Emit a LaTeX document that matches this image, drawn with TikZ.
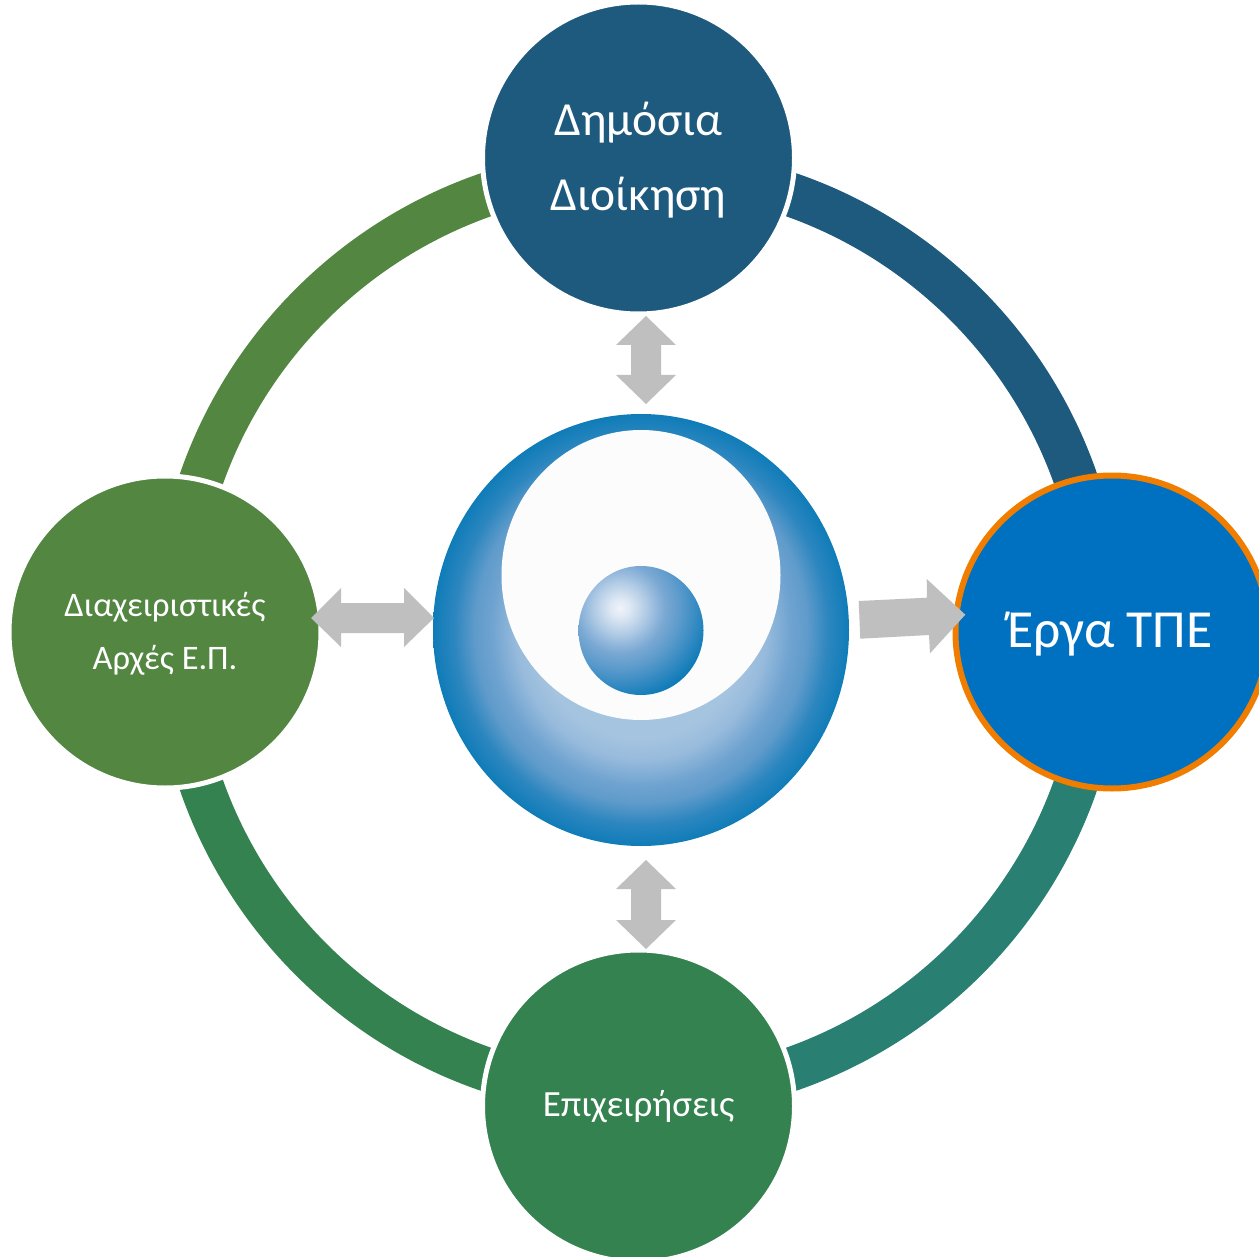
\documentclass[tikz,border=0pt]{standalone}
\usepackage{fontspec}
\setmainfont{Carlito}
\definecolor{cpub}{HTML}{1E5A7E}
\definecolor{cteal}{HTML}{287F72}
\definecolor{cbiz}{HTML}{348250}
\definecolor{cman}{HTML}{528641}
\definecolor{cict}{HTML}{0070C0}
\definecolor{corange}{HTML}{F07D00}
\definecolor{cgrey}{HTML}{BFBFBF}
\definecolor{mbb}{HTML}{A5C4E0}
\definecolor{mbg}{HTML}{98BBDC}
\definecolor{mbc}{HTML}{6FA3D0}
\definecolor{mbh}{HTML}{5F9BCB}
\definecolor{mbd}{HTML}{2C86BF}
\definecolor{mbf}{HTML}{0F7CB8}
\definecolor{sba}{HTML}{F0F4FA}
\definecolor{sbb}{HTML}{DDE7F3}
\definecolor{sbc}{HTML}{B4CDE6}
\definecolor{sbg}{HTML}{93B8DC}
\definecolor{sbd}{HTML}{7AA8D3}
\definecolor{sbh}{HTML}{5C9BCC}
\definecolor{sbe}{HTML}{2D87C0}
\pgfdeclareradialshading{mainball}{\pgfpoint{0bp}{0bp}}{
  color(0bp)=(mbb);
  color(12.5bp)=(mbb);
  color(15bp)=(mbg);
  color(18bp)=(mbc);
  color(20bp)=(mbh);
  color(22.5bp)=(mbd);
  color(25bp)=(mbf);
  color(50bp)=(mbf)}
\pgfdeclareradialshading{smallball}{\pgfpoint{0bp}{0bp}}{
  color(0bp)=(sba);
  color(2.5bp)=(sbb);
  color(6.25bp)=(sbc);
  color(9bp)=(sbg);
  color(11.25bp)=(sbd);
  color(15bp)=(sbh);
  color(20bp)=(sbe);
  color(23bp)=(mbf);
  color(50bp)=(mbf)}
\tikzset{
  ringarc/.style={line width=44pt,line cap=butt},
  hub/.style={circle,minimum size=312pt,inner sep=0pt,draw=white,line width=5pt},
  hubtext/.style={text=white,align=center,inner sep=0pt},
  blockarrow/.style={fill=cgrey,draw=none}
}
\begin{document}
\begin{tikzpicture}[x=1pt,y=1pt,yscale=-1]
\useasboundingbox (0,0) rectangle (1259,1257);
\fill[white] (0,0) rectangle (1259,1257);
\coordinate (ringc) at (638.5,632);
% ring
\draw[ringarc,draw=cteal] (ringc) ++(0:463) arc[start angle=0,end angle=90,radius=463];
\draw[ringarc,draw=cbiz] (ringc) ++(90:463) arc[start angle=90,end angle=180,radius=463];
\draw[ringarc,draw=cman] (ringc) ++(180:463) arc[start angle=180,end angle=270,radius=463];
\draw[ringarc,draw=cpub] (ringc) ++(270:463) arc[start angle=270,end angle=360,radius=463];
% hubs
\node[hub,fill=cpub] (pub) at (638.5,158) {};
\node[hub,fill=cman] (man) at (165,632) {};
\node[hub,fill=cbiz] (biz) at (638.5,1106) {};
\node[hub,fill=cict,draw=corange,line width=6pt,minimum size=313pt] (ict) at (1112,632) {};
\node[hubtext,font=\fontsize{47.5}{75}\selectfont] (pubt) at (638.5,160) {Δημόσια\\Διοίκηση};
\node[hubtext,font=\fontsize{34.4}{53}\selectfont] (mant) at (165,634) {Διαχειριστικές\\Αρχές Ε.Π.};
\node[hubtext,font=\fontsize{37}{44}\selectfont] (bizt) at (638.5,1107) {Επιχειρήσεις};
\node[hubtext,font=\fontsize{53.6}{64}\selectfont] (ictt) at (1110,634) {Έργα ΤΠΕ};
% centre ball
\shade[shading=mainball] (641,630) ellipse[x radius=208,y radius=216];
\fill[white!99!black] (641,575) ellipse[x radius=139.5,y radius=145];
\begin{scope}
\clip (641,630.5) ellipse[x radius=62.5,y radius=64.5];
\shade[shading=smallball] (620,608) circle[radius=100];
\end{scope}
% block arrows
\fill[blockarrow] (646,316) -- (676,345) -- (661,345) -- (661,375) -- (676,375) -- (646,404) -- (616,375) -- (631,375) -- (631,345) -- (616,345) -- cycle;
\fill[blockarrow] (646,860) -- (676,889) -- (661,889) -- (661,920) -- (676,920) -- (646,949) -- (616,920) -- (631,920) -- (631,889) -- (616,889) -- cycle;
\fill[blockarrow] (311,618) -- (341,588) -- (341,603) -- (404,603) -- (404,588) -- (434,618) -- (404,647) -- (404,633) -- (341,633) -- (341,647) -- cycle;
\fill[blockarrow] (858.7,601) -- (927,597.7) -- (926.7,579) -- (965.3,614.7) -- (930,653.3) -- (929,635) -- (860.3,638.7) -- cycle;
\end{tikzpicture}
\end{document}
